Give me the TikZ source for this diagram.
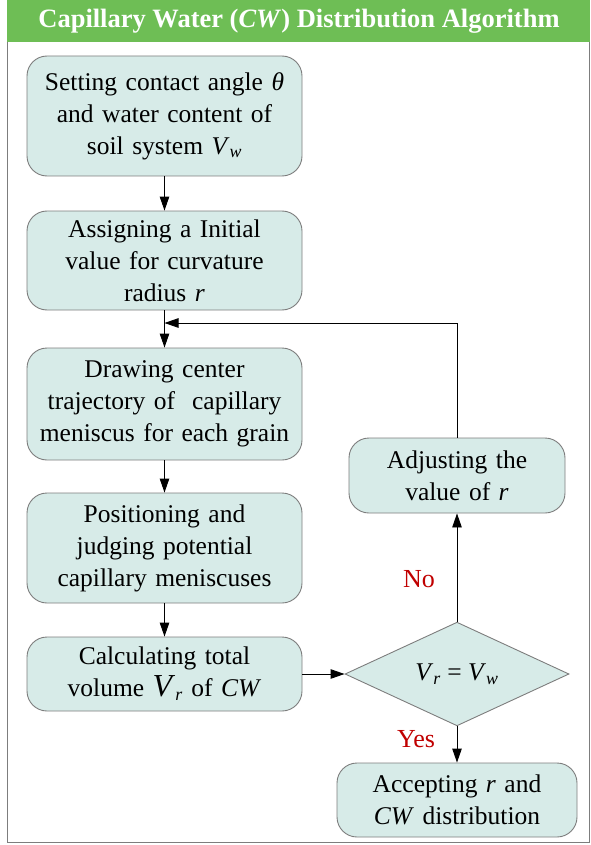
\documentclass[tikz,border=0pt]{standalone}
\usepackage{fontspec}
\setmainfont{Liberation Serif}
\usetikzlibrary{arrows.meta,shapes.geometric}
\definecolor{boxfill}{RGB}{215,235,232}
\definecolor{boxdraw}{RGB}{125,125,125}
\definecolor{hdrgreen}{RGB}{110,190,85}
\definecolor{lblred}{RGB}{192,0,0}
\tikzset{
  stepbox/.style={draw=boxdraw, fill=boxfill, rounded corners=20pt, line width=0.9pt,
    align=center, inner sep=0pt, font=\fontsize{25.5}{32}\selectfont},
  decbox/.style={draw=boxdraw, fill=boxfill, diamond, line width=0.9pt, inner sep=0pt,
    font=\fontsize{25.5}{32}\selectfont},
  arr/.style={-{Triangle[length=14pt,width=9.5pt]}, line width=0.9pt, draw=black},
  lbl/.style={text=lblred, font=\fontsize{26}{30}\selectfont}
}
\begin{document}
\begin{tikzpicture}[x=1pt,y=-1pt]
\useasboundingbox (0,0) rectangle (590,845);
% frame and header
\draw[boxdraw, line width=0.9pt] (7,0) rectangle (589.5,842.5);
\fill[hdrgreen] (7,0) rectangle (590,42);
\node[text=white, font=\fontsize{26.5}{30}\selectfont\bfseries] (title) at (299,21)
  {Capillary Water (\textit{CW}) Distribution Algorithm};
% left column
\node[stepbox, minimum width=275pt, minimum height=120pt, text width=270pt] (b1) at (164.5,116)
  {Setting contact angle \textit{θ}\\ and water content of\\ soil system \textit{V}\textsubscript{\textit{w}}};
\node[stepbox, minimum width=275pt, minimum height=99pt, text width=270pt] (b2) at (164.5,260.5)
  {Assigning a Initial\\ value for curvature\\ radius \textit{r}};
\node[stepbox, minimum width=275pt, minimum height=112pt, text width=270pt] (b3) at (164.5,404)
  {Drawing center\\ trajectory of\ \ capillary\\ meniscus for each grain};
\node[stepbox, minimum width=275pt, minimum height=110pt, text width=270pt] (b4) at (164.5,548)
  {Positioning and\\ judging potential\\ capillary meniscuses};
\node[stepbox, minimum width=275pt, minimum height=74pt, text width=270pt] (b5) at (164.5,674)
  {Calculating total\\ volume {\fontsize{32}{32}\selectfont\textit{V}}\textsubscript{\textit{r}} of \textit{CW}};
% right column
\node[decbox, minimum width=224pt, minimum height=102pt] (dia) at (457,674)
  {\textit{V}\textsubscript{\textit{r}} = \textit{V}\textsubscript{\textit{w}}};
\node[stepbox, minimum width=216pt, minimum height=75pt, text width=210pt] (adj) at (457,475.5)
  {Adjusting the\\ value of \textit{r}};
\node[stepbox, minimum width=240pt, minimum height=74pt, text width=234pt] (acc) at (457,800)
  {Accepting \textit{r} and\\ \textit{CW} distribution};
% connectors
\coordinate (join) at (164.5,323);
\draw[arr] (b1.south) -- (b2.north);
\draw[arr] (b2.south) -- (b3.north);
\draw[arr] (b3.south) -- (b4.north);
\draw[arr] (b4.south) -- (b5.north);
\draw[arr] (b5.east) -- (dia.west);
\draw[arr] (dia.north) -- (adj.south);
\draw[arr] (dia.south) -- (acc.north);
\draw[arr] (adj.north) |- (join);
% labels
\node[lbl] (no) at (419,579) {No};
\node[lbl] (yes) at (416,739) {Yes};
\end{tikzpicture}
\end{document}
